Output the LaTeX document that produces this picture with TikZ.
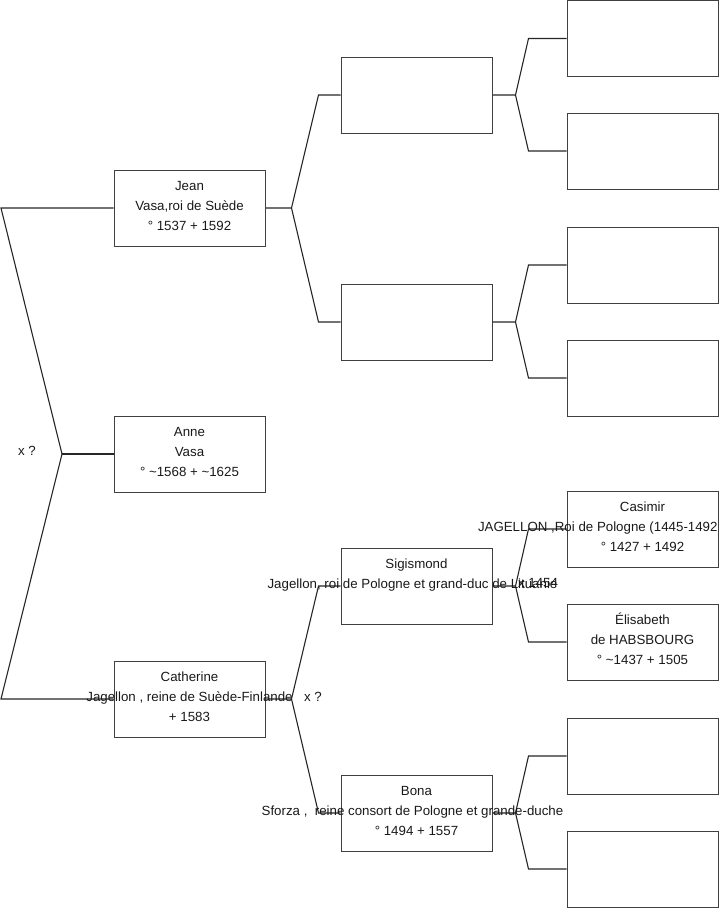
\documentclass[tikz,border=0pt]{standalone}
\usepackage{fontspec}
\setmainfont{Liberation Sans}
\usetikzlibrary{calc}
\newcommand\famlink[5]{%
  \draw[lnk] (#1.east) -- ++(#4,0) coordinate (j#1) -- ([xshift=-#5]#2.west) -- (#2.west);
  \draw[lnk] (j#1) -- ([xshift=-#5]#3.west) -- (#3.west);}
\begin{document}
\begin{tikzpicture}[x=1pt,y=-1pt,
  box/.style={draw=black!75, line width=1pt, minimum width=151pt, minimum height=76pt, inner sep=0pt},
  txt/.style={font=\fontsize{13.3}{20}\selectfont, align=center, inner sep=0pt, text=black!90},
  lnk/.style={draw=black!85, line width=1.1pt},
  lbl/.style={font=\fontsize{13.3}{20}\selectfont, inner sep=0pt, text=black!90}]
\useasboundingbox (0,0) rectangle (719,908);
% generation 1
\node[box] (jean) at (189.5,208) {};
\node[box] (anne) at (189.5,454) {};
\node[box] (cath) at (189.5,699) {};
% generation 2
\node[box] (f1) at (416.5,95) {};
\node[box] (f2) at (416.5,322) {};
\node[box] (sig) at (416.5,586) {};
\node[box] (bona) at (416.5,813) {};
% generation 3
\node[box] (g1) at (642.5,38.5) {};
\node[box] (g2) at (642.5,151) {};
\node[box] (g3) at (642.5,265) {};
\node[box] (g4) at (642.5,378) {};
\node[box] (g5) at (642.5,529) {};
\node[box] (g6) at (642.5,642) {};
\node[box] (g7) at (642.5,756) {};
\node[box] (g8) at (642.5,869) {};
% connectors
\coordinate (a1) at (1,208);
\coordinate (a0) at (62,454);
\coordinate (a2) at (1,699);
\draw[lnk] (jean.west) -- (a1) -- (a0) -- (a2) -- (cath.west);
\draw[lnk] (a0) -- (anne.west);
\famlink{jean}{f1}{f2}{26}{22pt}
\famlink{cath}{sig}{bona}{26}{22pt}
\famlink{f1}{g1}{g2}{23}{38pt}
\famlink{f2}{g3}{g4}{23}{38pt}
\famlink{sig}{g5}{g6}{23}{38pt}
\famlink{bona}{g7}{g8}{23}{38pt}
% texts
\node[txt] (tjean) at ([yshift=1.5pt]jean.center) {\strut Jean\\\strut Vasa,roi de Suède\\\strut ° 1537 + 1592};
\node[txt] (tanne) at ([yshift=1.5pt]anne.center) {\strut Anne\\\strut Vasa\\\strut ° \textasciitilde1568 + \textasciitilde1625};
\node[txt] (tcath) at ([yshift=1.5pt]cath.center) {\strut Catherine\\\strut Jagellon , reine de Suède-Finlande\\\strut + 1583};
\node[txt] (tsig) at ([yshift=1.5pt]sig.center) {\strut Sigismond\\\strut \hspace*{-8pt}Jagellon, roi de Pologne et grand-duc de Lituanie\\\strut};
\node[txt] (tbona) at ([yshift=1.5pt]bona.center) {\strut Bona\\\strut \hspace*{-8pt}Sforza ,\ \ reine consort de Pologne et grande-duche\\\strut ° 1494 + 1557};
\node[txt] (tg5) at ([yshift=1.5pt]g5.center) {\strut Casimir\\\strut\makebox[151pt][l]{\hspace*{-89pt}JAGELLON ,Roi de Pologne (1445-1492}\\\strut ° 1427 + 1492};
\node[txt] (tg6) at ([yshift=1.5pt]g6.center) {\strut Élisabeth\\\strut de HABSBOURG\\\strut ° \textasciitilde1437 + 1505};
% marriage labels
\node[lbl] (m1) at (27,451) {x ?};
\node[lbl] (m2) at (313,697) {x ?};
\node[lbl] (m3) at (538,583) {x 1454};
\end{tikzpicture}
\end{document}
